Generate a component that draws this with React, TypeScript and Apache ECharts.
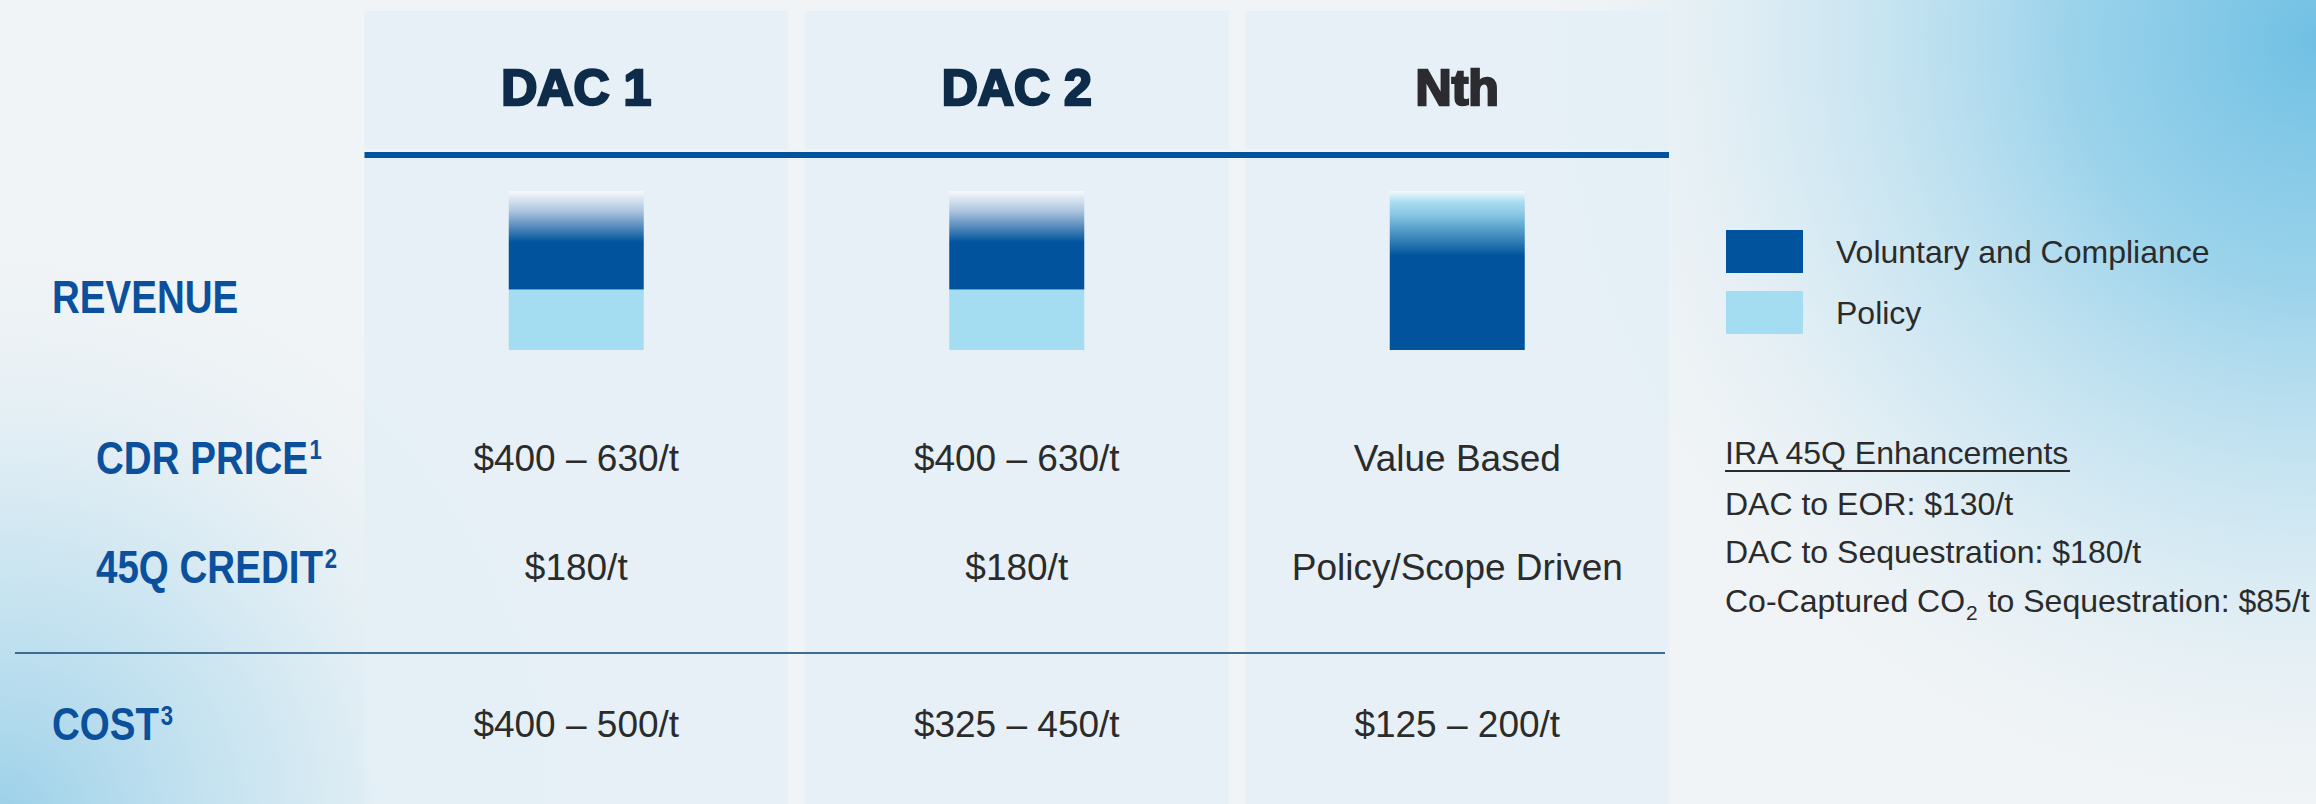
import React, { useEffect, useRef } from "react";
import * as echarts from "echarts";

// ---------- data ----------
const categories = ["DAC 1", "DAC 2", "Nth"];
const policyShare = [38, 38, 0];
const voluntaryShare = [62, 62, 100];
const cdrPrice = ["$400 – 630/t", "$400 – 630/t", "Value Based"];
const credit45Q = ["$180/t", "$180/t", "Policy/Scope Driven"];
const costs = ["$400 – 500/t", "$325 – 450/t", "$125 – 200/t"];
const rowLabels = ["REVENUE", "CDR PRICE", "45Q CREDIT", "COST"];
const rowNotes = ["", "1", "2", "3"];
const legendNames = ["Voluntary and Compliance", "Policy"];
const iraTitle = "IRA 45Q Enhancements";
const iraLines = [
  "DAC to EOR: $130/t",
  "DAC to Sequestration: $180/t",
  "Co-Captured CO₂ to Sequestration: $85/t",
];

const FONT = "'Liberation Sans', Arial, Helvetica, sans-serif";
const DARK = "#00539c";
const LIGHT = "#a4ddf1";
const LABEL_BLUE = "#0b509c";
const TEXT = "#2b2b2b";

export default function App() {
  const ref = useRef<HTMLDivElement>(null);

  useEffect(() => {
    const el = ref.current as HTMLDivElement;
    const chart = echarts.init(el, null, { renderer: "svg" });

    const dacGradient = () =>
      new echarts.graphic.LinearGradient(0, 0, 0, 1, [
        { offset: 0, color: "#f6f9fc" },
        { offset: 0.2, color: "#aec6df" },
        { offset: 0.52, color: DARK },
        { offset: 1, color: DARK },
      ]);
    const nthGradient = () =>
      new echarts.graphic.LinearGradient(0, 0, 0, 1, [
        { offset: 0, color: "#f6fafc" },
        { offset: 0.07, color: "#a9ddf1" },
        { offset: 0.15, color: "#86c6e3" },
        { offset: 0.41, color: DARK },
        { offset: 1, color: DARK },
      ]);

    chart.setOption({
      animation: false,
      backgroundColor: "#f1f4f6",
      grid: { left: 356, width: 1321.5, top: 191, height: 159 },
      xAxis: {
        type: "category",
        data: categories,
        position: "top",
        axisLine: { show: false },
        axisTick: { show: false },
        splitLine: { show: false },
        axisLabel: {
          margin: 78,
          formatter: (v: string) => (v === "Nth" ? `{nth|${v}}` : `{dac|${v}}`),
          rich: {
            dac: {
              fontSize: 50,
              fontWeight: "bold",
              fontFamily: FONT,
              color: "#0e2c4a",
              textBorderColor: "#0e2c4a",
              textBorderWidth: 2.5,
            },
            nth: {
              fontSize: 50,
              fontWeight: "bold",
              fontFamily: FONT,
              color: "#2c2c30",
              textBorderColor: "#2c2c30",
              textBorderWidth: 2.5,
              padding: [10, 0, 0, 0],
            },
          },
        },
      },
      yAxis: { type: "value", min: 0, max: 100, show: false },
      legend: {
        data: legendNames,
        orient: "vertical",
        left: 1721,
        top: 225,
        itemWidth: 77,
        itemHeight: 43,
        itemGap: 18,
        icon: "rect",
        selectedMode: false,
        textStyle: { fontSize: 32, color: TEXT, fontFamily: FONT, padding: [0, 0, 0, 28] },
      },
      series: [
        {
          name: "Policy",
          type: "bar",
          stack: "rev",
          barWidth: 135,
          data: policyShare,
          itemStyle: { color: LIGHT },
        },
        {
          name: "Voluntary and Compliance",
          type: "bar",
          stack: "rev",
          barWidth: 135,
          itemStyle: { color: DARK },
          data: voluntaryShare.map((v, i) => ({
            value: v,
            itemStyle: { color: categories[i] === "Nth" ? nthGradient() : dacGradient() },
          })),
        },
      ],
    });

    const cx = categories.map((c) => chart.convertToPixel({ xAxisIndex: 0 }, c) as number);
    const band = cx[1] - cx[0];
    const panelW = band - 17;

    const els: any[] = [];
    // background
    els.push({
      type: "rect",
      z: -10,
      silent: true,
      shape: { x: 0, y: 0, width: 2316, height: 804 },
      style: { fill: "#f1f4f6" },
    });
    els.push({
      type: "rect",
      z: -9,
      silent: true,
      shape: { x: 0, y: 0, width: 2316, height: 804 },
      style: {
        fill: {
          type: "radial",
          x: 2316,
          y: 40,
          r: 820,
          global: true,
          colorStops: [
            { offset: 0, color: "rgba(112,192,228,1)" },
            { offset: 0.3, color: "rgba(140,205,233,0.85)" },
            { offset: 0.65, color: "rgba(185,223,240,0.45)" },
            { offset: 1, color: "rgba(241,244,246,0)" },
          ],
        },
      },
    });
    els.push({
      type: "rect",
      z: -9,
      silent: true,
      shape: { x: 0, y: 0, width: 2316, height: 804 },
      style: {
        fill: {
          type: "radial",
          x: 0,
          y: 820,
          r: 620,
          global: true,
          colorStops: [
            { offset: 0, color: "rgba(150,206,232,0.95)" },
            { offset: 0.45, color: "rgba(185,222,239,0.6)" },
            { offset: 1, color: "rgba(241,244,246,0)" },
          ],
        },
      },
    });
    // column panels
    cx.forEach((x) => {
      els.push({
        type: "rect",
        z: -8,
        silent: true,
        shape: { x: x - panelW / 2, y: 11, width: panelW, height: 138 },
        style: { fill: "rgba(228,239,246,0.88)" },
      });
      els.push({
        type: "rect",
        z: -8,
        silent: true,
        shape: { x: x - panelW / 2, y: 157, width: panelW, height: 660 },
        style: { fill: "rgba(228,239,246,0.88)" },
      });
    });
    const tableLeft = cx[0] - panelW / 2;
    const tableRight = cx[2] + panelW / 2;
    // thick header line
    els.push({
      type: "line",
      z: -7,
      silent: true,
      shape: { x1: tableLeft, y1: 155, x2: tableRight, y2: 155 },
      style: { stroke: DARK, lineWidth: 6 },
    });
    // revenue / cost separator
    els.push({
      type: "line",
      z: -7,
      silent: true,
      shape: { x1: 15, y1: 653, x2: tableRight - 4, y2: 653 },
      style: { stroke: "#3d6b91", lineWidth: 2 },
    });

    // row labels
    const rowLabelX = [52, 96, 96, 52];
    const rowLabelY = [297, 458, 567, 724];
    rowLabels.forEach((t, i) => {
      els.push({
        type: "text",
        z: 10,
        silent: true,
        x: rowLabelX[i],
        y: rowLabelY[i],
        scaleX: 0.82,
        style: {
          text: rowNotes[i] ? `{m|${t}}{s|${rowNotes[i]}}` : `{m|${t}}`,
          align: "left",
          verticalAlign: "middle",
          fill: LABEL_BLUE,
          fontFamily: FONT,
          fontSize: 47,
          fontWeight: "bold",
          rich: {
            m: { fontSize: 47, fontWeight: "bold", fontFamily: FONT, fill: LABEL_BLUE },
            s: {
              fontSize: 27,
              fontWeight: "bold",
              fontFamily: FONT,
              fill: LABEL_BLUE,
              padding: [0, 0, 16, 2],
            },
          },
        },
      });
    });

    // table cells
    const rowsData = [cdrPrice, credit45Q, costs];
    const rowY = [458, 567, 724];
    rowsData.forEach((row, r) => {
      row.forEach((t, c) => {
        els.push({
          type: "text",
          z: 10,
          silent: true,
          x: cx[c],
          y: rowY[r],
          style: {
            text: t,
            align: "center",
            verticalAlign: "middle",
            fill: TEXT,
            fontFamily: FONT,
            fontSize: 37,
          },
        });
      });
    });

    // IRA notes
    const noteX = 1725;
    els.push({
      type: "text",
      z: 10,
      silent: true,
      x: noteX,
      y: 453,
      style: {
        text: iraTitle,
        align: "left",
        verticalAlign: "middle",
        fill: TEXT,
        fontFamily: FONT,
        fontSize: 32,
      },
    });
    els.push({
      type: "line",
      z: 10,
      silent: true,
      shape: { x1: noteX, y1: 471, x2: noteX + 345, y2: 471 },
      style: { stroke: TEXT, lineWidth: 2 },
    });
    const noteY = [504, 552, 601];
    iraLines.forEach((t, i) => {
      const parts = t.split("₂");
      const txt =
        parts.length > 1 ? `{m|${parts[0]}}{sub|2}{m|${parts[1]}}` : `{m|${t}}`;
      els.push({
        type: "text",
        z: 10,
        silent: true,
        x: noteX,
        y: noteY[i],
        style: {
          text: txt,
          align: "left",
          verticalAlign: "middle",
          fill: TEXT,
          fontFamily: FONT,
          fontSize: 32,
          rich: {
            m: { fontSize: 32, fontFamily: FONT, fill: TEXT },
            sub: { fontSize: 21, fontFamily: FONT, fill: TEXT, padding: [22, 1, 0, 1] },
          },
        },
      });
    });

    chart.setOption({ graphic: { elements: els } });

    return () => {
      chart.dispose();
    };
  }, []);

  return (
    <div
      ref={ref}
      style={{ position: "fixed", left: 0, top: 0, width: 2316, height: 804 }}
    />
  );
}
